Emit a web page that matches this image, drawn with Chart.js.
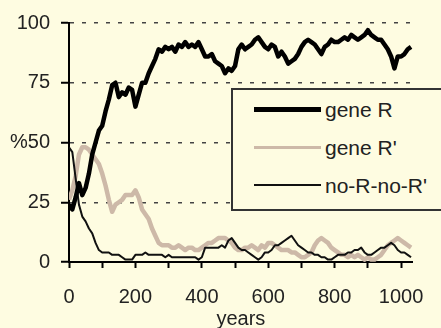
<!DOCTYPE html>
<html>
<head>
<meta charset="utf-8">
<script src="https://cdn.jsdelivr.net/npm/chart.js@4/dist/chart.umd.min.js"></script>
<style>
  html, body { margin: 0; padding: 0; background: #fefce1; overflow: hidden; }
  #wrap { position: relative; width: 441px; height: 328px; }
  #legend {
    position: absolute; left: 231px; top: 88px; width: 240px; height: 119px;
    border: 2px solid #333; background: #fefce1;
    font-family: "Liberation Sans", Arial, sans-serif; font-size: 21px; color: #222;
  }
  .row { position: absolute; left: 0; height: 24px; }
  .row .line { position: absolute; left: 21px; width: 67px; }
  .row .label { position: absolute; left: 92px; top: 0; line-height: 24px; white-space: nowrap; }
</style>
</head>
<body>
<div id="wrap">
  <canvas id="chart" width="441" height="328"></canvas>
  <div id="legend">
    <div class="row" style="top: 8px;"><div class="line" style="top: 9px; height: 5px; background: #000;"></div><span class="label">gene R</span></div>
    <div class="row" style="top: 46px;"><div class="line" style="top: 10px; height: 3px; background: #cdb9a8;"></div><span class="label">gene R'</span></div>
    <div class="row" style="top: 84px;"><div class="line" style="top: 10px; height: 2px; background: #111;"></div><span class="label">no-R-no-R'</span></div>
  </div>
</div>
<script>
// Years sampled every decade
const years = [
    0, 10, 20, 30, 40, 50, 60, 70, 80, 90,
    100, 110, 120, 130, 140, 150, 160, 170, 180, 190,
    200, 210, 220, 230, 240, 250, 260, 270, 280, 290,
    300, 310, 320, 330, 340, 350, 360, 370, 380, 390,
    400, 410, 420, 430, 440, 450, 460, 470, 480, 490,
    500, 510, 520, 530, 540, 550, 560, 570, 580, 590,
    600, 610, 620, 630, 640, 650, 660, 670, 680, 690,
    700, 710, 720, 730, 740, 750, 760, 770, 780, 790,
    800, 810, 820, 830, 840, 850, 860, 870, 880, 890,
    900, 910, 920, 930, 940, 950, 960, 970, 980, 990,
    1000, 1010, 1020, 1030
];

// Percent of population per group
const geneR = [
    24, 22, 27, 33, 28, 31, 37, 45, 50, 55,
    57, 63, 68, 74, 75, 69, 71, 70, 73, 72,
    65, 70, 75, 75, 79, 82, 85, 89, 88, 90,
    89, 90, 88, 91, 90, 92, 90, 91, 90, 92,
    89, 86, 86, 87, 84, 83, 82, 79, 81, 80,
    82, 89, 91, 89, 90, 91, 93, 94, 92, 90,
    89, 91, 90, 86, 88, 86, 83, 84, 85, 87,
    90, 92, 93, 92, 91, 89, 87, 90, 91, 93,
    92, 92, 93, 94, 93, 95, 94, 93, 94, 95,
    97, 95, 94, 93, 93, 91, 89, 86, 81, 86,
    86, 87, 89, 90
];
const geneRPrime = [
    26, 30, 36, 45, 48, 48, 47, 45, 43, 41,
    37, 32, 26, 21, 24, 25, 26, 28, 28, 28,
    30, 27, 22, 20, 18, 14, 11, 8, 7, 7,
    7, 6, 6, 7, 6, 5, 6, 6, 5, 5,
    6, 7, 8, 8, 9, 10, 10, 10, 9, 8,
    6, 5, 5, 6, 6, 7, 6, 5, 7, 6,
    8, 8, 7, 6, 5, 5, 5, 4, 4, 3,
    2, 2, 3, 4, 7, 9, 10, 9, 8, 6,
    5, 4, 3, 3, 2, 3, 2, 3, 2, 1,
    2, 1, 1, 2, 3, 5, 7, 8, 9, 10,
    9, 8, 7, 6
];
const noRnoRPrime = [
    48, 46, 35, 24, 19, 17, 14, 12, 8, 5,
    4, 4, 4, 3, 3, 3, 2, 1, 1, 1,
    3, 3, 3, 4, 3, 3, 3, 3, 3, 2,
    3, 2, 2, 2, 2, 2, 2, 2, 2, 1,
    2, 6, 6, 6, 6, 6, 7, 6, 9, 10,
    8, 6, 5, 5, 4, 3, 2, 1, 2, 4,
    4, 5, 7, 7, 8, 9, 10, 11, 9, 7,
    6, 5, 4, 4, 3, 3, 2, 2, 1, 1,
    2, 3, 3, 3, 4, 4, 5, 5, 6, 4,
    3, 3, 4, 5, 6, 6, 7, 8, 7, 5,
    4, 4, 3, 2
];

const yTickLabels = { 0: '0', 25: '25', 50: '%50', 75: '75', 100: '100' };
const xTickLabels = [0, 200, 400, 600, 800, 1000];

const fontFamily = '"Liberation Sans", Arial, sans-serif';
const toPoints = vals => vals.map((v, i) => ({ x: years[i], y: v }));

new Chart(document.getElementById('chart').getContext('2d'), {
    type: 'line',
    data: {
        datasets: [
            { label: 'gene R', data: toPoints(geneR), borderColor: '#000', borderWidth: 4.5, order: 0 },
            { label: 'gene R\'', data: toPoints(geneRPrime), borderColor: '#cdb9a8', borderWidth: 4.5, order: 2 },
            { label: 'no-R-no-R\'', data: toPoints(noRnoRPrime), borderColor: '#111', borderWidth: 2, order: 1 }
        ]
    },
    options: {
        responsive: false,
        animation: false,
        devicePixelRatio: 1,
        layout: { padding: { top: 18, right: 20, left: 0, bottom: 0 } },
        elements: { point: { radius: 0 }, line: { tension: 0, borderJoinStyle: 'round' } },
        plugins: { legend: { display: false }, tooltip: { enabled: false } },
        scales: {
            x: {
                type: 'linear', min: 0, max: 1035,
                afterFit: s => { s.height = 66; },
                border: { display: true, color: '#000', width: 2 },
                grid: { drawOnChartArea: false, drawTicks: true, tickLength: 6, tickColor: '#000', tickWidth: 2 },
                ticks: {
                    stepSize: 100, includeBounds: false, autoSkip: false, maxRotation: 0, padding: 17,
                    color: '#222', font: { family: fontFamily, size: 20 },
                    callback: v => xTickLabels.includes(v) ? String(v) : ''
                },
                title: {
                    display: true, text: 'years', color: '#222',
                    font: { family: fontFamily, size: 20 }, padding: { top: 0, bottom: -3 }
                }
            },
            y: {
                min: 0, max: 100,
                afterFit: s => { s.width = 69; },
                border: { display: true, color: '#000', width: 2, dash: [4, 8] },
                grid: {
                    drawOnChartArea: true, drawTicks: true, tickLength: 8,
                    tickColor: '#000', tickWidth: 2,
                    color: ctx => ctx.tick && ctx.tick.value === 0 ? 'rgba(0,0,0,0)' : '#444',
                    lineWidth: 1.5
                },
                ticks: {
                    stepSize: 25, padding: 11,
                    color: '#222', font: { family: fontFamily, size: 20 },
                    callback: v => yTickLabels[v] !== undefined ? yTickLabels[v] : ''
                }
            }
        }
    }
});
</script>
</body>
</html>
